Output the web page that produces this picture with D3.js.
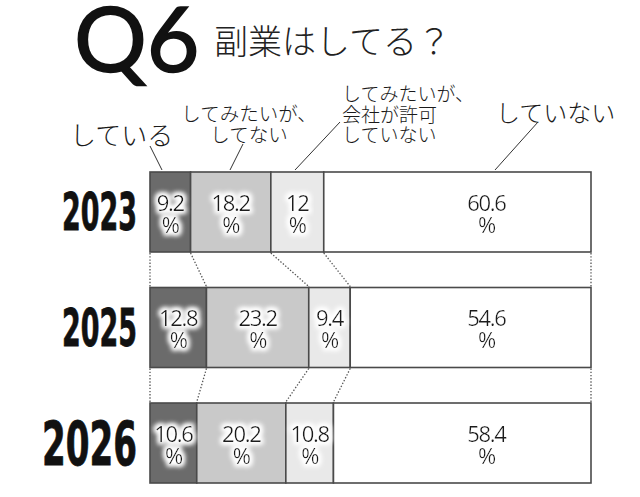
<!DOCTYPE html>
<html>
<head>
<meta charset="utf-8">
<script src="https://cdn.jsdelivr.net/npm/d3@7"></script>
<style>
  html, body { margin: 0; padding: 0; background: #fff; }
  svg { display: block; }
</style>
</head>
<body>
<div id="chart"></div>
<script>
// data
var years = ['2023', '2025', '2026'];
var categories = ['している', 'してみたいが、してない', 'してみたいが、会社が許可していない', 'していない'];
var doing = [9.2, 12.8, 10.6];
var wantNot = [18.2, 23.2, 20.2];
var wantBlocked = [12, 9.4, 10.8];
var notDoing = [60.6, 54.6, 58.4];
var valueLabels = [
  ['9.2', '18.2', '12', '60.6'],
  ['12.8', '23.2', '9.4', '54.6'],
  ['10.6', '20.2', '10.8', '58.4']
];

var fills = ['#6b6b6b', '#c9c9c9', '#e9e9e9', '#ffffff'];

var width = 640, height = 497;

var svg = d3.select('#chart')
  .append('svg')
    .attr('width', width)
    .attr('height', height);

// white halo behind the numbers
var defs = svg.append('defs');
var f = defs.append('filter').attr('id', 'glow')
  .attr('x', '-20%').attr('y', '-20%').attr('width', '140%').attr('height', '140%');
f.append('feMorphology').attr('in', 'SourceAlpha').attr('operator', 'dilate').attr('radius', 1.8).attr('result', 'd');
f.append('feGaussianBlur').attr('in', 'd').attr('stdDeviation', 2.4).attr('result', 'b');
f.append('feFlood').attr('flood-color', '#fff');
f.append('feComposite').attr('in2', 'b').attr('operator', 'in').attr('result', 'w');
var fm = f.append('feMerge');
fm.append('feMergeNode').attr('in', 'w');
fm.append('feMergeNode').attr('in', 'w');
fm.append('feMergeNode').attr('in', 'SourceGraphic');

var x = d3.scaleLinear().domain([0, 100]).range([150, 591]);
var y = d3.scaleBand()
  .domain(years)
  .range([172, 483])
  .paddingInner(0.3074)
  .paddingOuter(0);

// rows with stacked segments
var rows = years.map(function(yr, i) {
  var vals = [doing[i], wantNot[i], wantBlocked[i], notDoing[i]];
  var cum = [0];
  vals.forEach(function(v) { cum.push(cum[cum.length - 1] + v); });
  cum[cum.length - 1] = 100;
  return {
    year: yr,
    cum: cum,
    segs: vals.map(function(v, k) {
      return { k: k, x0: cum[k], x1: k == 3 ? 100 : cum[k + 1], label: valueLabels[i][k] };
    })
  };
});

// the last segment's numbers sit in one column
function labelX(d) {
  if (d.k == 3) return x(76.3);
  return x((d.x0 + d.x1) / 2);
}

// title
svg.append('text')
  .attr('x', 74).attr('y', 72)
  .attr('font-family', 'Lato, "Open Sans", sans-serif')
  .attr('font-size', 91)
  .attr('fill', '#111')
  .attr('stroke', '#111')
  .attr('stroke-width', 1.6)
  .text('Q6');

svg.append('text')
  .attr('x', 214).attr('y', 54)
  .attr('font-family', '"Noto Sans CJK JP", sans-serif')
  .attr('font-weight', 300)
  .attr('font-size', 34)
  .attr('fill', '#222')
  .text('副業はしてる？');

// category annotations
var jp = '"Noto Sans CJK JP", sans-serif';
var annot = [
  { lines: ['している'], x: 70, y: 133, size: 26, anchor: 'start', from: [150, 146], to: [162, 170] },
  { lines: ['してみたいが、', 'してない'], x: 249, y: 112, size: 19.5, anchor: 'middle', from: [243, 144], to: [230, 170] },
  { lines: ['してみたいが、', '会社が許可', 'していない'], x: 342, y: 92, size: 19, anchor: 'start', from: [340, 122], to: [295, 170] },
  { lines: ['していない'], x: 496, y: 111, size: 24, anchor: 'start', from: [538, 122], to: [495, 170] }
];

annot.forEach(function(a, i) {
  var t = svg.append('text')
    .attr('font-family', jp)
    .attr('font-weight', 300)
    .attr('font-size', a.size)
    .attr('fill', '#1a1a1a')
    .attr('text-anchor', a.anchor)
    .attr('dominant-baseline', 'central')
    .attr('data-category', categories[i]);
  a.lines.forEach(function(l, j) {
    t.append('tspan').attr('x', a.x).attr('y', a.y + j * 20.5).text(l);
  });
  svg.append('line')
    .attr('x1', a.from[0]).attr('y1', a.from[1])
    .attr('x2', a.to[0]).attr('y2', a.to[1])
    .attr('stroke', '#333').attr('stroke-width', 1);
});

// dotted connectors between bars
for (var i = 0; i < rows.length - 1; i++) {
  var a = rows[i], b = rows[i + 1];
  for (var k = 0; k < a.cum.length; k++) {
    svg.append('line')
      .attr('x1', x(a.cum[k])).attr('y1', y(a.year) + y.bandwidth() + 1)
      .attr('x2', x(b.cum[k])).attr('y2', y(b.year) - 1)
      .attr('stroke', '#555')
      .attr('stroke-width', 1.3)
      .attr('stroke-dasharray', '1.4,1.8');
  }
}

// bars
var g = svg.append('g')
  .selectAll('g')
  .data(rows)
  .enter().append('g')
    .attr('transform', function(d) { return 'translate(0,' + y(d.year) + ')'; });

g.selectAll('rect')
  .data(function(d) { return d.segs; })
  .enter().append('rect')
    .attr('x', function(d) { return x(d.x0); })
    .attr('width', function(d) { return x(d.x1) - x(d.x0); })
    .attr('y', 0)
    .attr('height', y.bandwidth())
    .attr('fill', function(d) { return fills[d.k]; })
    .attr('stroke', '#4a4a4a')
    .attr('stroke-width', 1.6);

var lbl = g.selectAll('text.val')
  .data(function(d) { return d.segs; })
  .enter().append('text')
    .attr('class', 'val')
    .attr('text-anchor', 'middle')
    .attr('font-family', '"Open Sans", Lato, sans-serif')
    .attr('font-size', 22)
    .attr('letter-spacing', -1.3)
    .attr('fill', '#1a1a1a')
    .attr('filter', 'url(#glow)');
lbl.append('tspan')
  .attr('x', labelX)
  .attr('y', y.bandwidth() / 2 - 1)
  .text(function(d) { return d.label; });
lbl.append('tspan')
  .attr('x', labelX)
  .attr('y', y.bandwidth() / 2 + 21)
  .text('%');

// year labels
var yearSize = { '2023': [51, 75], '2025': [51, 75], '2026': [60, 95] };
svg.selectAll('text.year')
  .data(years)
  .enter().append('text')
    .attr('class', 'year')
    .attr('x', 137)
    .attr('y', function(d) { return y(d) + y.bandwidth() / 2 + yearSize[d][0] * 0.36; })
    .attr('text-anchor', 'end')
    .attr('font-family', '"Liberation Sans Narrow", "DejaVu Sans Condensed", sans-serif')
    .attr('font-weight', 'bold')
    .attr('font-size', function(d) { return yearSize[d][0]; })
    .attr('textLength', function(d) { return yearSize[d][1]; })
    .attr('lengthAdjust', 'spacingAndGlyphs')
    .attr('fill', '#111')
    .attr('stroke', '#111')
    .attr('stroke-width', 0.8)
    .text(function(d) { return d; });
</script>
</body>
</html>
